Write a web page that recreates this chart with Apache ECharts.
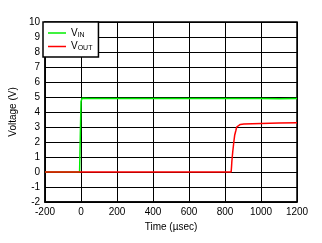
<!DOCTYPE html>
<html><head><meta charset="utf-8">
<script src="https://cdn.jsdelivr.net/npm/echarts@6/dist/echarts.min.js"></script>
<style>html,body{margin:0;padding:0;background:#fff}#c{width:322px;height:243px}</style>
</head><body><div id="c"></div>
<script>
const seriesNames = ['VIN', 'VOUT'];
const vinTime  = [-200, -101, -100, -99, -26, -25, -24, -21, -20, -8, -6, -5, -4, -2, -1, 0, 2, 4, 6, 50, 51, 200, 201, 400, 401, 600, 800, 1000, 1100, 1200];
const vinValue = [0, 0, 0.1, 0, 0, 0.08, 0, 0, 0.08, 0, 0.1, 0.1, 2.35, 2.35, 2.35, 4.7, 4.75, 4.8, 4.92, 4.9, 4.88, 4.9, 4.88, 4.9, 4.88, 4.9, 4.9, 4.9, 4.88, 4.9];
const voutTime  = [-200, 0, 400, 834, 836, 838, 843, 849, 854, 860, 865, 870, 876, 885, 893, 905, 915, 1000, 1100, 1200];
const voutValue = [0, 0, 0, 0, 0.3, 0.7, 1.35, 2.0, 2.47, 2.75, 3.0, 3.08, 3.13, 3.17, 3.2, 3.2, 3.23, 3.24, 3.26, 3.28];
const xMin = -200, xMax = 1200, xStep = 200;
const yMin = -2, yMax = 10, yStep = 1;

const pair = (t, v) => t.map((x, i) => [x, v[i]]);
const chart = echarts.init(document.getElementById('c'), null, {renderer: 'canvas'});
const font = 'Liberation Sans, Arial, sans-serif';
chart.setOption({
  animation: false,
  backgroundColor: '#fff',
  grid: {left: 43, right: 25, top: 22, bottom: 41, show: true, borderColor: '#000', borderWidth: 1.5},
  legend: {
    orient: 'vertical', left: 43, top: 22,
    padding: [6, 6, 5, 5], itemGap: 3, itemWidth: 18, itemHeight: 1.5,
    icon: 'rect',
    backgroundColor: '#fff', borderColor: '#000', borderWidth: 1.5,
    data: seriesNames,
    formatter: n => '{a|' + n.charAt(0) + '}{b|' + n.slice(1) + '}',
    textStyle: {
      fontFamily: font,
      rich: {
        a: {fontSize: 10, color: '#000', fontFamily: font},
        b: {fontSize: 7, color: '#000', fontFamily: font, padding: [4, 0, 0, 0]}
      }
    }
  },
  xAxis: {
    type: 'value', min: xMin, max: xMax, interval: xStep,
    name: 'Time (\u00b5sec)', nameLocation: 'middle', nameGap: 19,
    nameTextStyle: {fontFamily: font, fontSize: 10, color: '#000'},
    axisLine: {onZero: false, lineStyle: {color: '#000', width: 1.5}},
    axisTick: {show: false},
    axisLabel: {fontFamily: font, fontSize: 10, color: '#000', margin: 5, formatter: v => String(v)},
    splitLine: {show: true, lineStyle: {color: '#000', width: 1}}
  },
  yAxis: {
    type: 'value', min: yMin, max: yMax, interval: yStep,
    name: 'Voltage (V)', nameLocation: 'middle', nameGap: 23, nameRotate: 90,
    nameTextStyle: {fontFamily: font, fontSize: 10, color: '#000'},
    axisLine: {show: true, onZero: false, lineStyle: {color: '#000', width: 1.5}},
    axisTick: {show: false},
    axisLabel: {fontFamily: font, fontSize: 10, color: '#000', margin: 5, formatter: v => String(v)},
    splitLine: {show: true, lineStyle: {color: '#000', width: 1}}
  },
  series: [
    {name: 'VIN', type: 'line', data: pair(vinTime, vinValue), symbol: 'none',
     lineStyle: {color: '#00ee00', width: 1.5}, itemStyle: {color: '#00ee00'}},
    {name: 'VOUT', type: 'line', data: pair(voutTime, voutValue), symbol: 'none',
     lineStyle: {color: '#ff0000', width: 1.5}, itemStyle: {color: '#ff0000'}}
  ]
});
</script></body></html>
